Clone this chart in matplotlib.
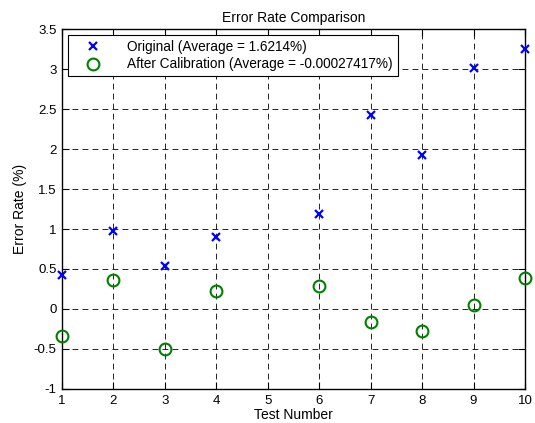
import matplotlib
matplotlib.use('Agg')
import matplotlib.pyplot as plt

plt.rcParams['font.family'] = ['Liberation Sans', 'DejaVu Sans']

# test 5 has no data
tests = [1, 2, 3, 4, 6, 7, 8, 9, 10]
original = [0.43, 0.98, 0.54, 0.90, 1.19, 2.42, 1.92, 3.01, 3.25]
calibrated = [-0.34, 0.36, -0.50, 0.23, 0.29, -0.16, -0.28, 0.05, 0.39]

fig = plt.figure(figsize=(5.35, 4.23), dpi=100)
ax = fig.add_axes([0.1159, 0.0804, 0.8654, 0.851])

ax.plot(tests, original, 'x', color='#0000ff', markersize=6, markeredgewidth=1.6,
        clip_on=False, label='Original (Average = 1.6214%)', zorder=3)
ax.plot(tests, calibrated, 'o', markerfacecolor='none', markeredgecolor='#008000',
        markersize=8.5, markeredgewidth=1.5, clip_on=False,
        label='After Calibration (Average = -0.00027417%)', zorder=3)

ax.set_xlim(1, 10)
ax.set_ylim(-1, 3.5)
ax.set_xticks(range(1, 11))
ax.set_yticks([-1, -0.5, 0, 0.5, 1, 1.5, 2, 2.5, 3, 3.5])
ax.set_yticklabels(['-1', '-0.5', '0', '0.5', '1', '1.5', '2', '2.5', '3', '3.5'])
ax.tick_params(direction='in', top=True, right=True, length=5, width=0.8,
               labelsize=9.5, pad=4)
ax.grid(True, color='black', linestyle=(0, (7, 5)), linewidth=0.6)
for s in ax.spines.values():
    s.set_linewidth(1.0)

ax.set_title('Error Rate Comparison', fontsize=10, pad=5)
ax.set_xlabel('Test Number', fontsize=10, labelpad=1)
ax.set_ylabel('Error Rate (%)', fontsize=10, labelpad=5)

leg = ax.legend(loc='upper left', fontsize=9.8, fancybox=False, framealpha=1,
                edgecolor='black', borderpad=0.35, handletextpad=1.0,
                labelspacing=0.25, borderaxespad=0.45, handlelength=3.0)
leg.get_frame().set_linewidth(0.8)

fig.savefig('out.png', dpi=100)
